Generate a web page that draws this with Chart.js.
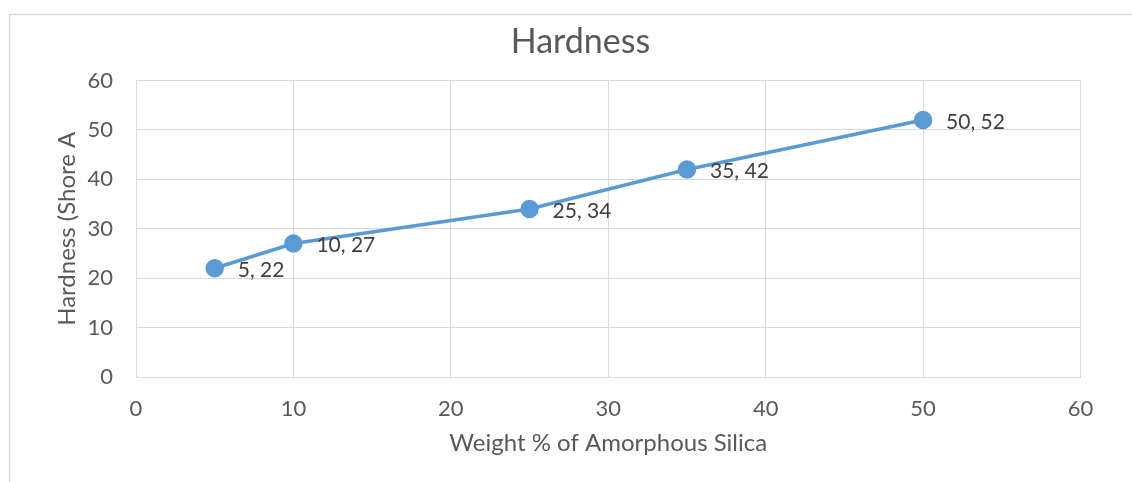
<!DOCTYPE html>
<html lang="en">
<head>
    <meta charset="UTF-8">
    <title>Hardness</title>
    <script src="https://cdn.jsdelivr.net/npm/chart.js"></script>
    <style>
        body { margin: 0; background: #fff; }
        #wrap { width: 1132px; height: 482px; }
    </style>
</head>
<body>
    <div id="wrap"><canvas id="hardnessChart" width="1132" height="482"></canvas></div>
    <script>
        // values
        const weightPct = [5, 10, 25, 35, 50];
        const hardness = [22, 27, 34, 42, 52];
        const axisMin = 0;
        const axisMax = 60;
        const axisStep = 10;

        const textColor = '#595959';
        const gridColor = '#d9d9d9';
        const lineColor = '#5b9bd5';
        const fontFamily = 'Lato, "Open Sans", sans-serif';

        // outer frame, white background and the chart title
        const framePlugin = {
            id: 'frame',
            beforeDraw(chart) {
                const c = chart.ctx;
                c.save();
                c.fillStyle = '#fff';
                c.fillRect(0, 0, chart.width, chart.height);
                c.strokeStyle = gridColor;
                c.lineWidth = 1.5;
                c.strokeRect(9.5, 14.5, 1400, 800);
                c.font = '34px ' + fontFamily;
                c.fillStyle = textColor;
                c.textAlign = 'center';
                c.textBaseline = 'middle';
                c.fillText('Hardness', 580.5, 42);
                c.restore();
            }
        };

        // "x, y" labels to the right of each point
        const pointLabels = {
            id: 'pointLabels',
            afterDatasetsDraw(chart) {
                const c = chart.ctx;
                const meta = chart.getDatasetMeta(0);
                c.save();
                c.font = '21px ' + fontFamily;
                c.fillStyle = '#404040';
                c.textAlign = 'left';
                c.textBaseline = 'middle';
                meta.data.forEach((pt, i) => {
                    c.fillText(weightPct[i] + ', ' + hardness[i], pt.x + 23, pt.y + 2);
                });
                c.restore();
            }
        };

        const ctx = document.getElementById('hardnessChart').getContext('2d');
        new Chart(ctx, {
            type: 'scatter',
            data: {
                datasets: [{
                    data: weightPct.map((w, i) => ({ x: w, y: hardness[i] })),
                    showLine: true,
                    borderColor: lineColor,
                    backgroundColor: lineColor,
                    borderWidth: 3.5,
                    pointRadius: 7.5,
                    pointHoverRadius: 7.5
                }]
            },
            options: {
                responsive: false,
                animation: false,
                layout: { padding: { left: 0, right: 51.5, top: 80.5, bottom: 0 } },
                scales: {
                    x: {
                        type: 'linear',
                        min: axisMin,
                        max: axisMax,
                        afterFit: (s) => { s.height = 105; },
                        ticks: { stepSize: axisStep, color: textColor, padding: 19, font: { family: fontFamily, size: 22 } },
                        grid: { color: gridColor, drawTicks: false },
                        border: { color: gridColor },
                        title: {
                            display: true,
                            text: 'Weight % of Amorphous Silica',
                            color: textColor,
                            font: { family: fontFamily, size: 24 },
                            padding: { top: 0, bottom: 24.6 }
                        }
                    },
                    y: {
                        min: axisMin,
                        max: axisMax,
                        afterFit: (s) => { s.width = 136; },
                        ticks: { stepSize: axisStep, color: textColor, padding: 23, font: { family: fontFamily, size: 22 } },
                        grid: { color: gridColor, drawTicks: false },
                        border: { color: gridColor },
                        title: {
                            display: true,
                            text: 'Hardness (Shore A',
                            color: textColor,
                            font: { family: fontFamily, size: 24 },
                            padding: { top: 52.6, bottom: 0 }
                        }
                    }
                },
                plugins: {
                    legend: { display: false },
                    tooltip: { enabled: false },
                    title: { display: false }
                }
            },
            plugins: [framePlugin, pointLabels]
        });
    </script>
</body>
</html>
